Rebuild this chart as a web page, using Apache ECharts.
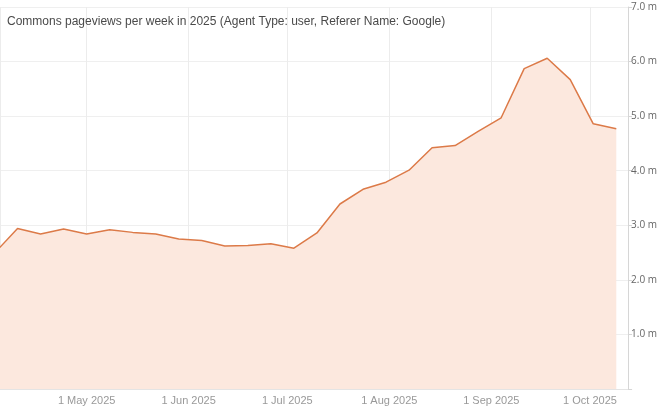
<!DOCTYPE html>
<html>
<head>
<meta charset="utf-8">
<script src="https://cdn.jsdelivr.net/npm/echarts@6/dist/echarts.min.js"></script>
<style>
    html, body { margin: 0; padding: 0; background: #fff; }
    #chart { width: 660px; height: 409px; }
</style>
</head>
<body>
<div id="chart"></div>
<script>
// weekly points, 3 Apr 2025 .. 9 Oct 2025 (first one sits just left of the visible area)
const weeks = [
    '2025-04-03', '2025-04-10', '2025-04-17', '2025-04-24', '2025-05-01', '2025-05-08', '2025-05-15',
    '2025-05-22', '2025-05-29', '2025-06-05', '2025-06-12', '2025-06-19', '2025-06-26', '2025-07-03',
    '2025-07-10', '2025-07-17', '2025-07-24', '2025-07-31', '2025-08-07', '2025-08-14', '2025-08-21',
    '2025-08-28', '2025-09-04', '2025-09-11', '2025-09-18', '2025-09-25', '2025-10-02', '2025-10-09'
];
const pageviews = [
    2490000, 2940000, 2840000, 2930000, 2840000, 2920000, 2870000,
    2840000, 2750000, 2720000, 2620000, 2630000, 2660000, 2580000,
    2860000, 3390000, 3660000, 3790000, 4010000, 4420000, 4460000,
    4720000, 4970000, 5870000, 6060000, 5670000, 4860000, 4770000
];
const monthNames = ['Jan', 'Feb', 'Mar', 'Apr', 'May', 'Jun', 'Jul', 'Aug', 'Sep', 'Oct', 'Nov', 'Dec'];
const chartTitle = 'Commons pageviews per week in 2025 (Agent Type: user, Referer Name: Google)';

const chart = echarts.init(document.getElementById('chart'));

chart.setOption({
    animation: false,
    title: {
        text: chartTitle,
        left: 2,
        top: 11,
        textStyle: {
            color: '#4a4a4a',
            fontSize: 12,
            fontWeight: 'normal',
            fontFamily: 'Liberation Sans'
        }
    },
    grid: {
        left: 0,
        right: 31,
        top: 7,
        bottom: 20,
        containLabel: false
    },
    xAxis: {
        type: 'time',
        // visible window starts a bit after the first week
        min: new Date(2025, 3, 4, 16).getTime(),
        max: new Date(2025, 9, 12, 14).getTime(),
        splitNumber: 6,
        axisLine: { show: true, lineStyle: { color: '#e4e4e4' } },
        axisTick: { show: false },
        splitLine: { show: true, lineStyle: { color: '#ececec' } },
        axisLabel: {
            color: '#999',
            fontSize: 11,
            fontFamily: 'Liberation Sans',
            margin: 6,
            showMinLabel: false,
            showMaxLabel: false,
            formatter: function (val) {
                const d = new Date(val);
                return d.getDate() + ' ' + monthNames[d.getMonth()] + ' ' + d.getFullYear();
            }
        }
    },
    yAxis: {
        type: 'value',
        position: 'right',
        min: 0,
        max: 7000000,
        interval: 1000000,
        axisLine: { show: true, lineStyle: { color: '#d6d6d6' } },
        axisTick: { show: true, length: 4, lineStyle: { color: '#d6d6d6' } },
        splitLine: { lineStyle: { color: '#efefef' } },
        axisLabel: {
            color: '#666',
            fontSize: 10,
            fontFamily: 'Open Sans',
            margin: 3,
            formatter: function (v) {
                return v === 0 ? '' : (v / 1000000).toFixed(1) + ' m';
            }
        }
    },
    series: [{
        type: 'line',
        data: weeks.map((w, i) => [w, pageviews[i]]),
        symbol: 'none',
        clip: true,
        lineStyle: { color: '#dc7a48', width: 1.5 },
        areaStyle: { color: '#fce8de', opacity: 1 }
    }]
});
</script>
</body>
</html>
